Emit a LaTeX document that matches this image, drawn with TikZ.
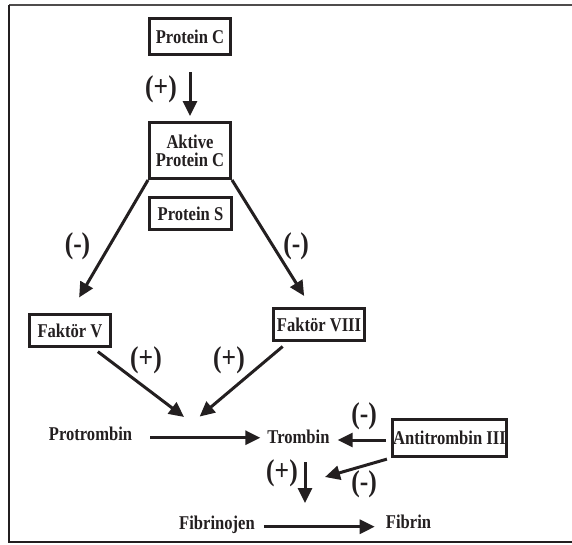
\documentclass[tikz,border=0pt]{standalone}
\usepackage{fontspec}
\setmainfont{Liberation Serif}[FakeStretch=0.85]
\usetikzlibrary{arrows.meta}
\definecolor{ink}{RGB}{35,31,32}

\begin{document}
\begin{tikzpicture}[x=1pt, y=-1pt,
    box/.style={draw=ink, text=ink, line width=3pt, inner sep=1pt, align=center,
        font=\fontsize{19.5}{18}\selectfont\bfseries},
    txt/.style={text=ink, inner sep=0pt, anchor=base,
        font=\fontsize{19.5}{18}\selectfont\bfseries},
    sgn/.style={text=ink, inner sep=0pt, font=\fontsize{30}{30}\selectfont\bfseries},
    arr/.style={draw=ink, line width=3pt, -{Triangle[length=15pt,width=14pt]}}]
    \useasboundingbox (0,0) rectangle (572,544);
    % frame, open on the right
    \draw [ink!80, line width=1.5pt] (572,5) -- (9,5);
    \draw [ink, line width=2pt] (9,5) -- (9,542) -- (572,542);

    % boxes
    \node [box, minimum width=81pt, minimum height=36pt] (pc) at (190,36.5) {Protein C};
    \node [box, minimum width=81pt, minimum height=56pt] (apc) at (190,150.5) {Aktive\\Protein C};
    \node [box, minimum width=82pt, minimum height=32pt] (ps) at (190.5,213.5) {Protein S};
    \node [box, minimum width=81pt, minimum height=32pt] (fv) at (70,330.5) {Faktör V};
    \node [box, minimum width=91pt, minimum height=32pt] (fviii) at (319,324.5) {Faktör VIII};
    \node [box, minimum width=113pt, minimum height=37pt] (at) at (449.5,438) {Antitrombin III};

    % plain texts
    \node [txt] (pro) at (90.5,440) {Protrombin};
    \node [txt] (tro) at (298.5,443) {Trombin};
    \node [txt] (fbj) at (217,529) {Fibrinojen};
    \node [txt] (fbn) at (408.5,528) {Fibrin};

    % meeting points
    \coordinate (conv) at (192,423);
    \coordinate (fibc) at (305,503);
    \coordinate (tact) at (325,477);

    % arrows
    \draw [arr, shorten <=16pt, shorten >=5pt] (pc) -- (apc);
    \draw [arr, shorten >=18pt] (apc.south west) -- (fv.north);
    \draw [arr, shorten >=13pt] (apc.south east) -- ([xshift=-8pt]fviii.north);
    \draw [arr, shorten <=6pt, shorten >=10pt] (fv) -- (conv);
    \draw [arr, shorten <=7pt, shorten >=10pt] ([xshift=-31pt]fviii.south) -- (conv);
    \draw [arr, shorten <=18pt, shorten >=7pt] (pro.mid east) -- (pro.mid east -| tro.west);
    \draw [arr, shorten <=5pt, shorten >=8pt] ([yshift=-2pt]at.west) -- ([yshift=-2pt]at.west -| tro.east);
    \draw [arr, shorten <=4pt] (at.south west) -- (tact);
    \draw [arr, shorten <=19pt] (tro.south -| fibc) -- (fibc);
    \draw [arr, shorten <=9pt, shorten >=11pt] (fbj.mid east) -- (fbj.mid east -| fbn.west);

    % signs
    \node [sgn] (s1) at (161,89) {(+)};
    \node [sgn] (s2) at (77.5,246) {(-)};
    \node [sgn] (s3) at (296,246) {(-)};
    \node [sgn] (s4) at (146,360) {(+)};
    \node [sgn] (s5) at (229,360) {(+)};
    \node [sgn] (s6) at (364,416) {(-)};
    \node [sgn] (s7) at (282,473) {(+)};
    \node [sgn] (s8) at (364,484) {(-)};
\end{tikzpicture}
\end{document}
